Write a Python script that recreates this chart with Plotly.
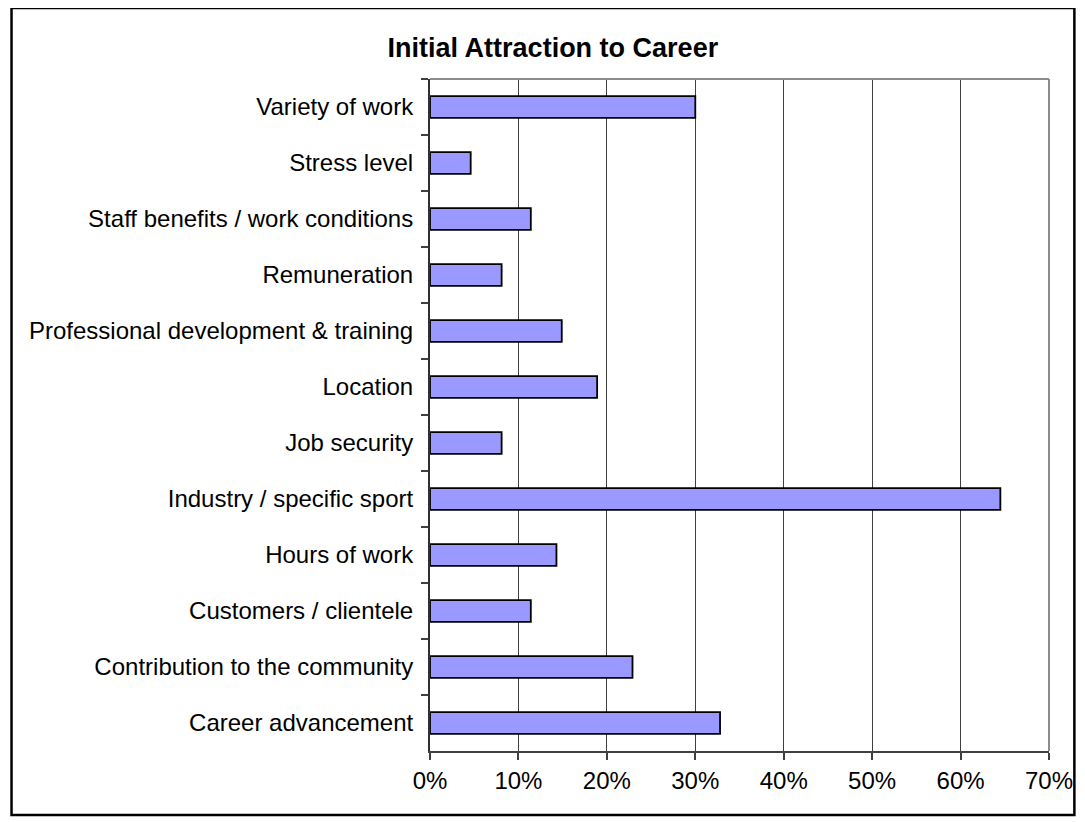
import plotly.graph_objects as go

categories = [
    "Variety of work",
    "Stress level",
    "Staff benefits / work conditions",
    "Remuneration",
    "Professional development & training",
    "Location",
    "Job security",
    "Industry / specific sport",
    "Hours of work",
    "Customers / clientele",
    "Contribution to the community",
    "Career advancement",
]
values = [0.300, 0.046, 0.114, 0.081, 0.149, 0.189, 0.081, 0.645, 0.143, 0.114, 0.229, 0.328]
x_ticks = [0, 0.1, 0.2, 0.3, 0.4, 0.5, 0.6, 0.7]
x_tick_labels = ["0%", "10%", "20%", "30%", "40%", "50%", "60%", "70%"]

FONT = "Liberation Sans, Arial, sans-serif"

fig = go.Figure(
    go.Bar(
        x=values,
        y=categories,
        orientation="h",
        marker=dict(color="#9999FF", line=dict(color="#000000", width=1.8)),
        hoverinfo="x+y",
    )
)

OFF = 8  # page body margin
W, H = 1085 - OFF, 822 - OFF
# plot-area edges measured in screen pixels
sx0, sx1, sy0, sy1 = 429.5, 1051.5, 79, 751
L, R = sx0 - OFF, W - (sx1 - OFF)
T, B = sy0 - OFF, H - (sy1 - OFF)
pw, ph = W - L - R, H - T - B


def px_to_paper_x(sx):
    return (sx - sx0) / pw


def px_to_paper_y(sy):
    return (sy1 - sy) / ph


fig.update_layout(
    width=W,
    height=H,
    margin=dict(l=L, r=R, t=T, b=B, pad=0),
    paper_bgcolor="white",
    plot_bgcolor="white",
    bargap=0.61,
    showlegend=False,
    font=dict(family=FONT, size=24, color="black"),
    title=dict(
        text="<b>Initial Attraction to Career</b>",
        font=dict(family=FONT, size=27, color="black"),
        xref="paper",
        yref="container",
        x=px_to_paper_x(553),
        xanchor="center",
        y=1 - (48 - OFF) / H,
        yanchor="middle",
    ),
    xaxis=dict(
        range=[0, 0.7],
        tickvals=x_ticks,
        ticktext=x_tick_labels,
        showgrid=True,
        gridcolor="#404040",
        gridwidth=1,
        showline=True,
        linecolor="#404040",
        linewidth=2,
        ticks="outside",
        ticklen=7,
        tickcolor="#404040",
        tickwidth=1.5,
        zeroline=False,
        fixedrange=True,
        tickfont=dict(family=FONT, size=24, color="black"),
    ),
    yaxis=dict(
        categoryorder="array",
        categoryarray=categories,
        autorange="reversed",
        showgrid=False,
        showline=True,
        linecolor="#303030",
        linewidth=2,
        ticks="outside",
        ticklen=7,
        tickcolor="#404040",
        tickwidth=1.5,
        tickson="boundaries",
        ticklabelstandoff=10,
        zeroline=False,
        fixedrange=True,
        tickfont=dict(family=FONT, size=24, color="black"),
    ),
    shapes=[
        # plot area top and right border (gray)
        dict(type="line", xref="paper", yref="paper", x0=0, x1=1, y0=1, y1=1,
             line=dict(color="#8c8c8c", width=2)),
        dict(type="line", xref="paper", yref="paper", x0=1, x1=1, y0=0, y1=1,
             line=dict(color="#8c8c8c", width=2)),
        # outer chart frame
        dict(type="rect", xref="paper", yref="paper",
             x0=px_to_paper_x(9), x1=px_to_paper_x(1077),
             y0=px_to_paper_y(815), y1=px_to_paper_y(8),
             line=dict(color="black", width=2.5), fillcolor="rgba(0,0,0,0)",
             layer="above"),
    ],
)

fig.write_html("out.html")
